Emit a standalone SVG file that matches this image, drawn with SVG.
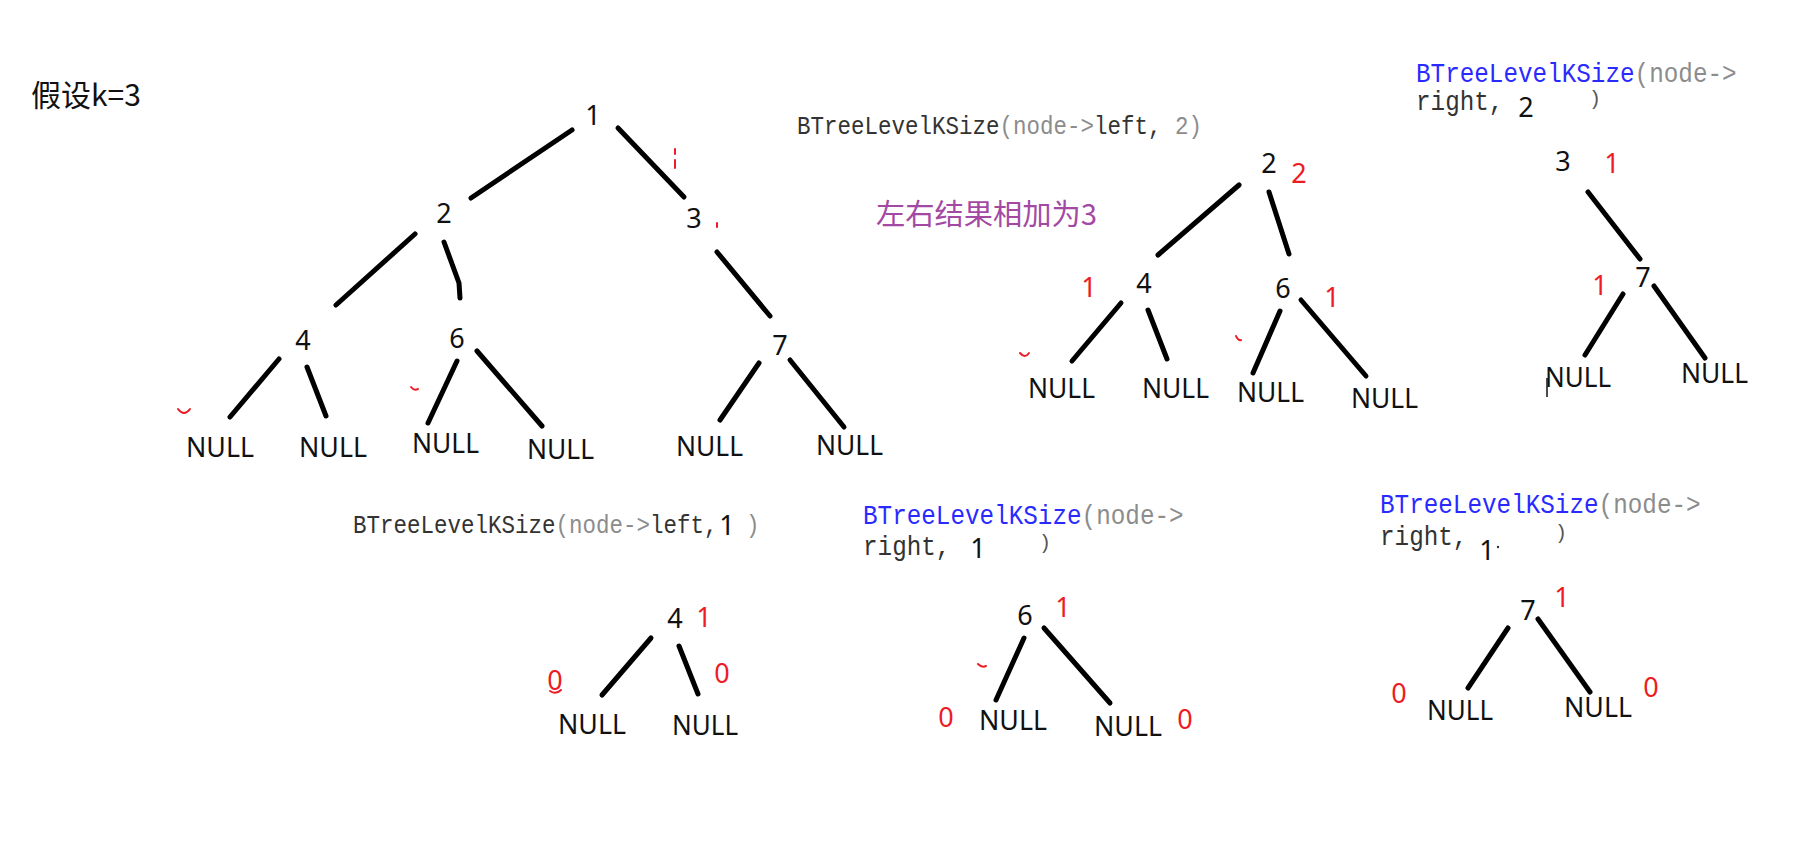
<svg xmlns="http://www.w3.org/2000/svg" width="1801" height="841" viewBox="0 0 1801 841">
<style>
.n{font-family:"Noto Sans","Open Sans",sans-serif;font-size:27px;fill:#111;text-anchor:middle}
.r{font-family:"Noto Sans","Open Sans",sans-serif;font-size:27px;fill:#ED1C24;text-anchor:middle}
.nl{font-family:"Noto Sans","Open Sans",sans-serif;font-size:28px;fill:#111}
.code{font-family:"Liberation Mono",monospace;font-size:22.5px;fill:#333}
.code2{font-family:"Liberation Mono",monospace;font-size:24.3px;fill:#333}
.par{font-family:"Liberation Mono",monospace;font-size:20px;fill:#555}
.g{fill:#8c8c8c}
.b{fill:#2a2aff}
.e{stroke:#000;stroke-width:5;stroke-linecap:round;fill:none}
.m{stroke:#ED1C24;stroke-width:2;fill:none;stroke-linecap:round}
.cjk{font-family:"Noto Sans CJK SC","Noto Sans",sans-serif}
</style>
<rect width="1801" height="841" fill="#fff"/>

<g id="title"><text class="cjk" x="31" y="106" font-size="30" fill="#111">假设k=3</text></g>
<g id="note"><text class="cjk" x="876" y="225" font-size="29" fill="#A349A4" textLength="221" lengthAdjust="spacingAndGlyphs">左右结果相加为3</text></g>

<g id="connectors">
<path class="e" d="M572,130L471,198"/>
<path class="e" d="M618,128L684,197"/>
<path class="e" d="M415,234L336,305"/>
<path class="e" d="M444,242L459,283L460,298"/>
<path class="e" d="M717,252L770,316"/>
<path class="e" d="M279,359L230,417"/>
<path class="e" d="M307,367L326,416"/>
<path class="e" d="M457,361L428,423"/>
<path class="e" d="M477,351L542,426"/>
<path class="e" d="M759,363L720,420"/>
<path class="e" d="M790,360L844,427"/>
<path class="e" d="M1239,185L1158,255"/>
<path class="e" d="M1269,192L1289,254"/>
<path class="e" d="M1121,303L1072,361"/>
<path class="e" d="M1148,310L1167,359"/>
<path class="e" d="M1280,311L1253,373"/>
<path class="e" d="M1301,300L1366,376"/>
<path class="e" d="M1588,192L1640,259"/>
<path class="e" d="M1623,294L1585,355"/>
<path class="e" d="M1654,286L1705,358"/>
<path class="e" d="M651,638L602,695"/>
<path class="e" d="M679,646L698,694"/>
<path class="e" d="M1024,638L996,700"/>
<path class="e" d="M1044,628L1110,703"/>
<path class="e" d="M1508,628L1468,688"/>
<path class="e" d="M1538,619L1590,692"/>
</g>

<g id="marks">
<path class="m" d="M178,409Q184,417 190,409"/>
<path class="m" d="M411,387Q414,391 418,389"/>
<path class="m" d="M675,149L675,154M675,160L675,168" stroke-width="1.5"/>
<path class="m" d="M717,223L717,227" stroke-width="1.2"/>
<path class="m" d="M1020,353Q1025,359 1029,353"/>
<path class="m" d="M1236,336Q1238,341 1241,340"/>
<path class="m" d="M978,664Q982,668 986,666"/>
<path class="m" d="M550,691Q556,695 561,690" stroke-width="1.5"/>
<path d="M1547,378L1547,397" stroke="#111" stroke-width="1.5"/>
<circle cx="1498" cy="547" r="1.2" fill="#333"/>
</g>

<g id="m1"><text class="n" x="593" y="125">1</text></g>
<g id="m2"><text class="n" x="444" y="223">2</text></g>
<g id="m3"><text class="n" x="694" y="228">3</text></g>
<g id="m4"><text class="n" x="303" y="350">4</text></g>
<g id="m6"><text class="n" x="457" y="348">6</text></g>
<g id="m7"><text class="n" x="780" y="355">7</text></g>
<g id="mn1"><text class="nl" x="186" y="457" textLength="68" lengthAdjust="spacingAndGlyphs">NULL</text></g>
<g id="mn2"><text class="nl" x="299" y="457" textLength="68" lengthAdjust="spacingAndGlyphs">NULL</text></g>
<g id="mn3"><text class="nl" x="412" y="453" textLength="67" lengthAdjust="spacingAndGlyphs">NULL</text></g>
<g id="mn4"><text class="nl" x="527" y="459" textLength="67" lengthAdjust="spacingAndGlyphs">NULL</text></g>
<g id="mn5"><text class="nl" x="676" y="456" textLength="67" lengthAdjust="spacingAndGlyphs">NULL</text></g>
<g id="mn6"><text class="nl" x="816" y="455" textLength="67" lengthAdjust="spacingAndGlyphs">NULL</text></g>

<g id="call-left-2"><text class="code" transform="translate(797,134) scale(1,1.15)">BTreeLevelKSize<tspan class="g">(node-&gt;</tspan>left, <tspan class="g">2)</tspan></text></g>
<g id="t2"><text class="n" x="1269" y="173">2</text><text class="r" x="1299" y="183">2</text></g>
<g id="t4"><text class="n" x="1144" y="293">4</text><text class="r" x="1089" y="297">1</text></g>
<g id="t6"><text class="n" x="1283" y="298">6</text><text class="r" x="1332" y="307">1</text></g>
<g id="tn1"><text class="nl" x="1028" y="398" textLength="67" lengthAdjust="spacingAndGlyphs">NULL</text></g>
<g id="tn2"><text class="nl" x="1142" y="398" textLength="67" lengthAdjust="spacingAndGlyphs">NULL</text></g>
<g id="tn3"><text class="nl" x="1237" y="402" textLength="67" lengthAdjust="spacingAndGlyphs">NULL</text></g>
<g id="tn4"><text class="nl" x="1351" y="408" textLength="67" lengthAdjust="spacingAndGlyphs">NULL</text></g>

<g id="call-right-2">
<text class="code2" transform="translate(1416,82) scale(1,1.12)"><tspan class="b">BTreeLevelKSize</tspan><tspan class="g">(node-&gt;</tspan></text>
<text class="code2" transform="translate(1416,110) scale(1,1.12)">right,</text>
<text class="n" x="1526" y="117" font-size="26">2</text>
<text class="par" x="1589" y="105">)</text>
</g>
<g id="r3"><text class="n" x="1563" y="171">3</text><text class="r" x="1612" y="173">1</text></g>
<g id="r7"><text class="n" x="1643" y="287">7</text><text class="r" x="1600" y="295">1</text></g>
<g id="rn1"><text class="nl" x="1545" y="387" textLength="66" lengthAdjust="spacingAndGlyphs">NULL</text></g>
<g id="rn2"><text class="nl" x="1681" y="383" textLength="67" lengthAdjust="spacingAndGlyphs">NULL</text></g>

<g id="call-left-1">
<text class="code" transform="translate(353,533) scale(1,1.15)">BTreeLevelKSize<tspan class="g">(node-&gt;</tspan>left,</text>
<text class="n" x="727" y="535">1</text>
<text class="code g" transform="translate(746,533) scale(1,1.15)">)</text>
</g>
<g id="b4"><text class="n" x="675" y="628">4</text><text class="r" x="704" y="627">1</text></g>
<g id="bn1"><text class="nl" x="558" y="734" textLength="68" lengthAdjust="spacingAndGlyphs">NULL</text><text class="r" x="555" y="690">0</text></g>
<g id="bn2"><text class="nl" x="672" y="735" textLength="66" lengthAdjust="spacingAndGlyphs">NULL</text><text class="r" x="722" y="683">0</text></g>

<g id="call-right-1a">
<text class="code2" transform="translate(863,524) scale(1,1.12)"><tspan class="b">BTreeLevelKSize</tspan><tspan class="g">(node-&gt;</tspan></text>
<text class="code2" transform="translate(863,555) scale(1,1.12)">right,</text>
<text class="n" x="978" y="558">1</text>
<text class="par" x="1039" y="549">)</text>
</g>
<g id="c6"><text class="n" x="1025" y="625">6</text><text class="r" x="1063" y="617">1</text></g>
<g id="cn1"><text class="nl" x="979" y="730" textLength="68" lengthAdjust="spacingAndGlyphs">NULL</text><text class="r" x="946" y="727">0</text></g>
<g id="cn2"><text class="nl" x="1094" y="736" textLength="68" lengthAdjust="spacingAndGlyphs">NULL</text><text class="r" x="1185" y="729">0</text></g>

<g id="call-right-1b">
<text class="code2" transform="translate(1380,513) scale(1,1.12)"><tspan class="b">BTreeLevelKSize</tspan><tspan class="g">(node-&gt;</tspan></text>
<text class="code2" transform="translate(1380,545) scale(1,1.12)">right,</text>
<text class="n" x="1487" y="560">1</text>
<text class="par" x="1555" y="539">)</text>
</g>
<g id="d7"><text class="n" x="1528" y="620">7</text><text class="r" x="1562" y="607">1</text></g>
<g id="dn1"><text class="nl" x="1427" y="720" textLength="66" lengthAdjust="spacingAndGlyphs">NULL</text><text class="r" x="1399" y="703">0</text></g>
<g id="dn2"><text class="nl" x="1564" y="717" textLength="68" lengthAdjust="spacingAndGlyphs">NULL</text><text class="r" x="1651" y="697">0</text></g>
</svg>
